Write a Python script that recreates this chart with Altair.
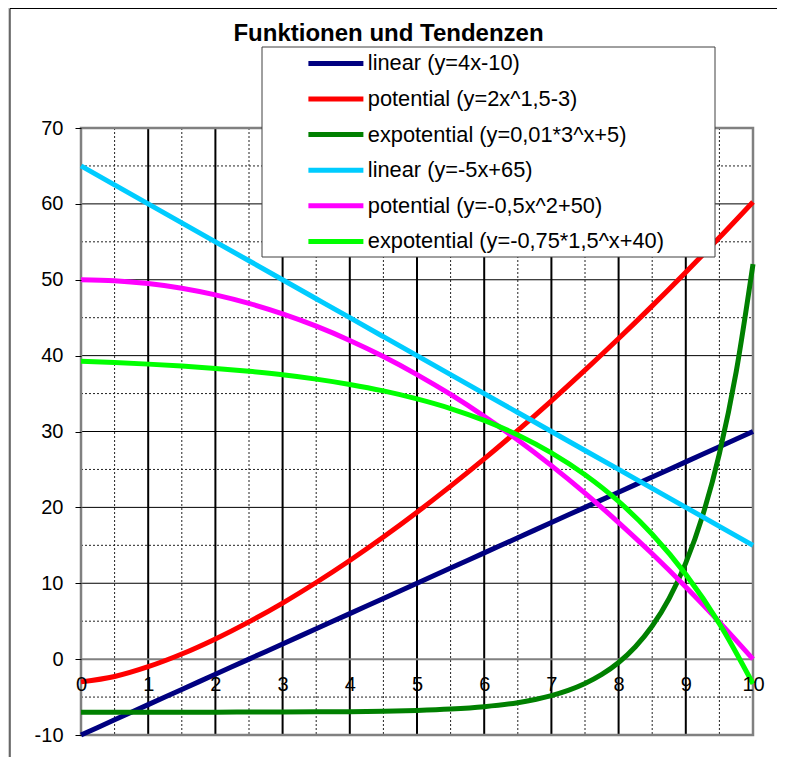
import altair as alt
import pandas as pd

FONT = "Liberation Sans"

title_text = "Funktionen und Tendenzen"

series_labels = [
    "linear (y=4x-10)",
    "potential (y=2x^1,5-3)",
    "expotential (y=0,01*3^x+5)",
    "linear (y=-5x+65)",
    "potential (y=-0,5x^2+50)",
    "expotential (y=-0,75*1,5^x+40)",
]
series_colors = ["#000080", "#FF0000", "#008000", "#00CCFF", "#FF00FF", "#00FF00"]

x_common = [0, 0.5, 1, 1.5, 2, 2.5, 3, 3.5, 4, 4.5, 5, 5.5, 6, 6.5, 7, 7.5, 8, 8.5, 9, 9.5, 10]
y_lin1 = [-10, -8, -6, -4, -2, 0, 2, 4, 6, 8, 10, 12, 14, 16, 18, 20, 22, 24, 26, 28, 30]
y_pot1 = [-3, -2.29, -1, 0.67, 2.66, 4.91, 7.39, 10.1, 13, 16.09, 19.36, 22.8, 26.39, 30.14,
          34.04, 38.08, 42.25, 46.56, 51, 55.56, 60.25]
x_exp1 = [0, 0.5, 1, 1.5, 2, 2.5, 3, 3.5, 4, 4.5, 5, 5.5, 6, 6.5, 7, 7.25, 7.5, 7.75, 8,
          8.25, 8.5, 8.75, 9, 9.25, 9.5, 9.75, 10]
y_exp1 = [-7.0, -7.0, -7.0, -6.99, -6.99, -6.98, -6.97, -6.95, -6.92, -6.86, -6.76, -6.58,
          -6.27, -5.74, -4.81, -4.12, -3.21, -2.02, -0.44, 1.64, 4.36, 7.96, 12.68, 18.9,
          27.09, 37.87, 52.05]
y_lin2 = [65, 62.5, 60, 57.5, 55, 52.5, 50, 47.5, 45, 42.5, 40, 37.5, 35, 32.5, 30, 27.5,
          25, 22.5, 20, 17.5, 15]
y_pot2 = [50, 49.88, 49.5, 48.88, 48, 46.88, 45.5, 43.88, 42, 39.88, 37.5, 34.88, 32, 28.88,
          25.5, 21.88, 18, 13.88, 9.5, 4.88, 0]
y_exp2 = [39.25, 39.08, 38.88, 38.62, 38.31, 37.93, 37.47, 36.9, 36.2, 35.35, 34.3, 33.03,
          31.46, 29.54, 27.18, 24.3, 20.78, 16.46, 11.17, 4.68, -3.25]

x_ticks = [0, 1, 2, 3, 4, 5, 6, 7, 8, 9, 10]
y_ticks = [-10, 0, 10, 20, 30, 40, 50, 60, 70]
x_major = [1, 2, 3, 4, 5, 6, 7, 8, 9]
x_minor = [0.5, 1.5, 2.5, 3.5, 4.5, 5.5, 6.5, 7.5, 8.5, 9.5]
y_major = [10, 20, 30, 40, 50, 60]
y_minor = [-5, 5, 15, 25, 35, 45, 55, 65]
y_zero = [0]

series_data = [
    (series_labels[0], x_common, y_lin1),
    (series_labels[1], x_common, y_pot1),
    (series_labels[2], x_exp1, y_exp1),
    (series_labels[3], x_common, y_lin2),
    (series_labels[4], x_common, y_pot2),
    (series_labels[5], x_common, y_exp2),
]
rows = []
for name, xs_, ys_ in series_data:
    for xv, yv in zip(xs_, ys_):
        rows.append({"series": name, "x": xv, "y": yv})
df = pd.DataFrame(rows)

W, H = 672, 607
xscale = alt.Scale(domain=[0, 10], nice=False, zero=False)
yscale = alt.Scale(domain=[-10, 70], nice=False, zero=False)
one = pd.DataFrame({"k": [0]})

x_axis = alt.Axis(
    values=x_ticks, labelExpr="'' + datum.value", title=None, domain=False, grid=False,
    ticks=False, tickSize=0, labelFontSize=20, labelFont=FONT, labelColor="black",
    labelPadding=15, offset=-75.875, labelFlush=False, labelOverlap=False, zindex=1)
y_axis = alt.Axis(
    values=y_ticks, labelExpr="'' + datum.value", title=None, domain=False, grid=False,
    tickSize=6, tickColor="black", tickWidth=1, labelFontSize=20, labelFont=FONT,
    labelColor="black", labelPadding=12, labelFlush=False, labelOverlap=False,
    zindex=1)

bg = alt.Chart(one).mark_rect(fill="white", stroke="black", strokeWidth=1).encode(
    x=alt.value(-71), x2=alt.value(720), y=alt.value(-119.5), y2=alt.value(660))

vmin = alt.Chart(pd.DataFrame({"x": x_minor})).mark_rule(
    color="#222222", strokeWidth=1, strokeDash=[2, 2]).encode(
    x=alt.X("x:Q", scale=xscale, axis=x_axis), y=alt.value(0), y2=alt.value(H))
hmin = alt.Chart(pd.DataFrame({"y": y_minor})).mark_rule(
    color="#222222", strokeWidth=1, strokeDash=[2, 2]).encode(
    y=alt.Y("y:Q", scale=yscale, axis=y_axis), x=alt.value(0), x2=alt.value(W))
vmaj = alt.Chart(pd.DataFrame({"x": x_major})).mark_rule(
    color="black", strokeWidth=2).encode(
    x=alt.X("x:Q", scale=xscale, axis=x_axis), y=alt.value(0), y2=alt.value(H))
hmaj = alt.Chart(pd.DataFrame({"y": y_major})).mark_rule(
    color="black", strokeWidth=1).encode(
    y=alt.Y("y:Q", scale=yscale, axis=y_axis), x=alt.value(0), x2=alt.value(W))
zero = alt.Chart(pd.DataFrame({"y": y_zero})).mark_rule(
    color="#808080", strokeWidth=2).encode(
    y=alt.Y("y:Q", scale=yscale, axis=y_axis), x=alt.value(0), x2=alt.value(W))
frame = alt.Chart(one).mark_rect(fillOpacity=0, stroke="#808080", strokeWidth=2.5).encode(
    x=alt.value(0), x2=alt.value(W), y=alt.value(0), y2=alt.value(H))

lines = alt.Chart(df).mark_line(strokeWidth=5, interpolate="monotone").encode(
    x=alt.X("x:Q", scale=xscale, axis=x_axis),
    y=alt.Y("y:Q", scale=yscale, axis=y_axis),
    color=alt.Color("series:N", scale=alt.Scale(domain=series_labels, range=series_colors),
                    legend=alt.Legend(
                        title=None, orient="none", legendX=181, legendY=-75.5,
                        symbolType="M-5,0H5", symbolSize=121, symbolStrokeWidth=5,
                        symbolOffset=63, labelOffset=21, labelFontSize=21.8,
                        labelFont=FONT, labelColor="black", rowPadding=12.6, padding=0,
                        labelLimit=400)),
    detail="series:N",
)

legbox = alt.Chart(one).mark_rect(fill="white", stroke="#404040", strokeWidth=1).encode(
    x=alt.value(181), x2=alt.value(634), y=alt.value(-81), y2=alt.value(129))

chart = alt.layer(bg, vmin, hmin, vmaj, hmaj, zero, frame, lines, legbox).properties(
    width=W, height=H,
    padding={"left": 73, "top": 120, "right": 24, "bottom": 22},
    autosize=alt.AutoSizeParams(type="none"),
    background="#d0d0d0",
    title=alt.TitleParams(title_text, font=FONT, fontSize=24, fontWeight="bold",
                          color="black", anchor="middle", frame="group", dx=-28.5,
                          offset=-57, baseline="alphabetic"),
).configure_view(strokeWidth=0)

chart.save("out.html", embed_options={"renderer": "svg", "actions": False})
